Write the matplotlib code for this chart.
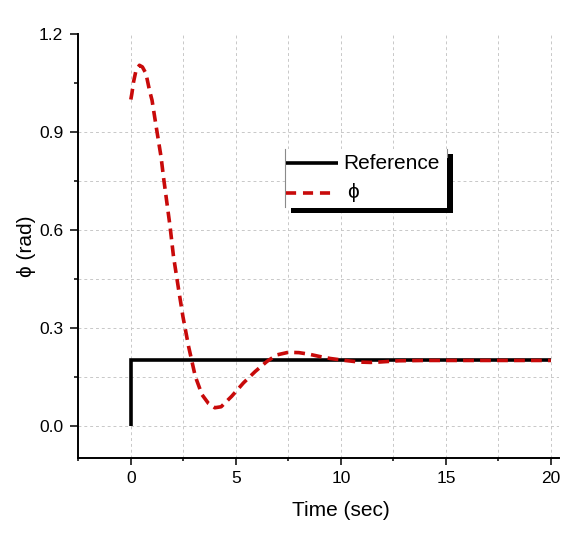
import matplotlib
matplotlib.use("Agg")
import matplotlib.pyplot as plt
from matplotlib.patches import Rectangle
from matplotlib.lines import Line2D
from matplotlib.ticker import FixedLocator, FuncFormatter

# ---------------- data ----------------
ref_time = [0, 0, 20]
ref_value = [0.0, 0.2, 0.2]

phi_time = [0, 0.05, 0.13, 0.25, 0.41, 0.55, 0.72, 0.89, 1.01, 1.21, 1.44,
            1.56, 1.87, 2.03, 2.27, 2.48, 2.75, 2.91, 3.07, 3.39, 3.7, 4.0,
            4.3, 4.8, 5.36, 5.92, 6.48, 6.95, 7.5, 8.0, 8.5, 9.0, 9.5, 10.2,
            10.9, 11.4, 11.8, 12.75, 14, 16, 18, 20]
phi_value = [1.0, 1.018, 1.054, 1.09, 1.105, 1.10, 1.080, 1.028, 0.998, 0.916,
             0.824, 0.76, 0.61, 0.52, 0.42, 0.335, 0.243, 0.197, 0.151, 0.095,
             0.068, 0.055, 0.058, 0.09, 0.131, 0.166, 0.197, 0.217, 0.225,
             0.224, 0.219, 0.212, 0.206, 0.200, 0.195, 0.194, 0.195, 0.199,
             0.2, 0.2, 0.2, 0.2]

x_major = [0, 5, 10, 15, 20]
x_minor = [-2.5, 2.5, 7.5, 12.5, 17.5]
y_major = [0.0, 0.3, 0.6, 0.9, 1.2]
y_minor = [0.15, 0.45, 0.75, 1.05]
y_grid = [0.0, 0.15, 0.3, 0.45, 0.6, 0.75, 0.9]

legend_labels = ["Reference", "\u03d5"]
x_label = "Time (sec)"
y_label = "\u03d5 (rad)"

# ---------------- style ----------------
FONT = "Liberation Sans"
plt.rcParams["font.family"] = [FONT, "DejaVu Sans"]

W, H = 571, 535
fig = plt.figure(figsize=(W / 100, H / 100), dpi=100)

def fx(px):
    return px / W

def fy(py):
    return 1 - py / H

ax_l, ax_r, ax_t, ax_b = 78.3, 559.3, 34.3, 458.3
ax = fig.add_axes([fx(ax_l), fy(ax_b), fx(ax_r - ax_l), (ax_b - ax_t) / H])

ax.set_xlim(-2.5, 20.4)
ax.set_ylim(-0.1, 1.2)

red = "#c80a0a"
lw = 2.6

# grid
grid_kw = dict(color="#c8c8c8", linewidth=0.7, linestyle=(0, (3, 3)), zorder=0)
for gx in x_major + x_minor:
    if gx > -2.5:
        ax.axvline(gx, **grid_kw)
for gy in y_grid:
    ax.axhline(gy, **grid_kw)

ax.plot(ref_time, ref_value, color="black", linewidth=lw, solid_capstyle="butt",
        solid_joinstyle="miter", zorder=3)
ax.plot(phi_time, phi_value, color=red, linewidth=lw, linestyle=(0, (3.0, 1.7)),
        dash_capstyle="butt", zorder=4)

# spines
for s in ["top", "right"]:
    ax.spines[s].set_visible(False)
for s in ["left", "bottom"]:
    ax.spines[s].set_linewidth(1.4)

ax.xaxis.set_major_locator(FixedLocator(x_major))
ax.xaxis.set_minor_locator(FixedLocator(x_minor))
ax.yaxis.set_major_locator(FixedLocator(y_major))
ax.yaxis.set_minor_locator(FixedLocator(y_minor))
ax.yaxis.set_major_formatter(FuncFormatter(lambda v, p: f"{v:.1f}"))
ax.xaxis.set_major_formatter(FuncFormatter(lambda v, p: f"{v:g}"))

ax.tick_params(axis="x", which="major", direction="out", length=4.8, width=1.1,
               pad=4.3, labelsize=12.5)
ax.tick_params(axis="x", which="minor", direction="out", length=2.4, width=1.1)
ax.tick_params(axis="y", which="major", direction="out", length=5.8, width=1.1,
               pad=5.0, labelsize=12.5)
ax.tick_params(axis="y", which="minor", direction="out", length=2.9, width=1.1)

ax.set_xlabel(x_label, fontsize=15)
ax.set_ylabel(y_label, fontsize=15)
ax.xaxis.set_label_coords(0.5455, -0.100)
ax.yaxis.set_label_coords(-0.088, 0.5)

# ---------------- legend (Origin style with shadow) ----------------
box_l, box_t, box_r, box_b = 285, 149, 447, 208
sh = 6
fig.patches.append(Rectangle((fx(box_l + sh), fy(box_b + sh - 1)),
                             fx(box_r - box_l), (box_b - box_t) / H,
                             transform=fig.transFigure, facecolor="black",
                             edgecolor="none", zorder=5))
fig.patches.append(Rectangle((fx(box_l), fy(box_b)),
                             fx(box_r - box_l), (box_b - box_t) / H,
                             transform=fig.transFigure, facecolor="white",
                             edgecolor="none", zorder=6))
fig.lines.append(Line2D([fx(box_l), fx(box_l)], [fy(box_t), fy(box_b - 1)],
                        transform=fig.transFigure, color="#8a8a8a", lw=0.8, zorder=7))
fig.lines.append(Line2D([fx(box_r), fx(box_r)], [fy(box_t), fy(box_t + 8)],
                        transform=fig.transFigure, color="#8a8a8a", lw=0.8, zorder=7))

fig.lines.append(Line2D([fx(286), fx(338)], [fy(163), fy(163)],
                        transform=fig.transFigure, color="black", lw=lw,
                        solid_capstyle="butt", zorder=8))
fig.lines.append(Line2D([fx(286), fx(336)], [fy(192.7), fy(192.7)],
                        transform=fig.transFigure, color=red, lw=lw,
                        linestyle=(0, (2.8, 1.9)), dash_capstyle="butt", zorder=8))
fig.text(fx(343), fy(163.5), legend_labels[0], fontsize=15, va="center",
         ha="left", zorder=9)
fig.text(fx(347), fy(193), legend_labels[1], fontsize=15, va="center",
         ha="left", zorder=9)

fig.savefig("out.png", dpi=100)
